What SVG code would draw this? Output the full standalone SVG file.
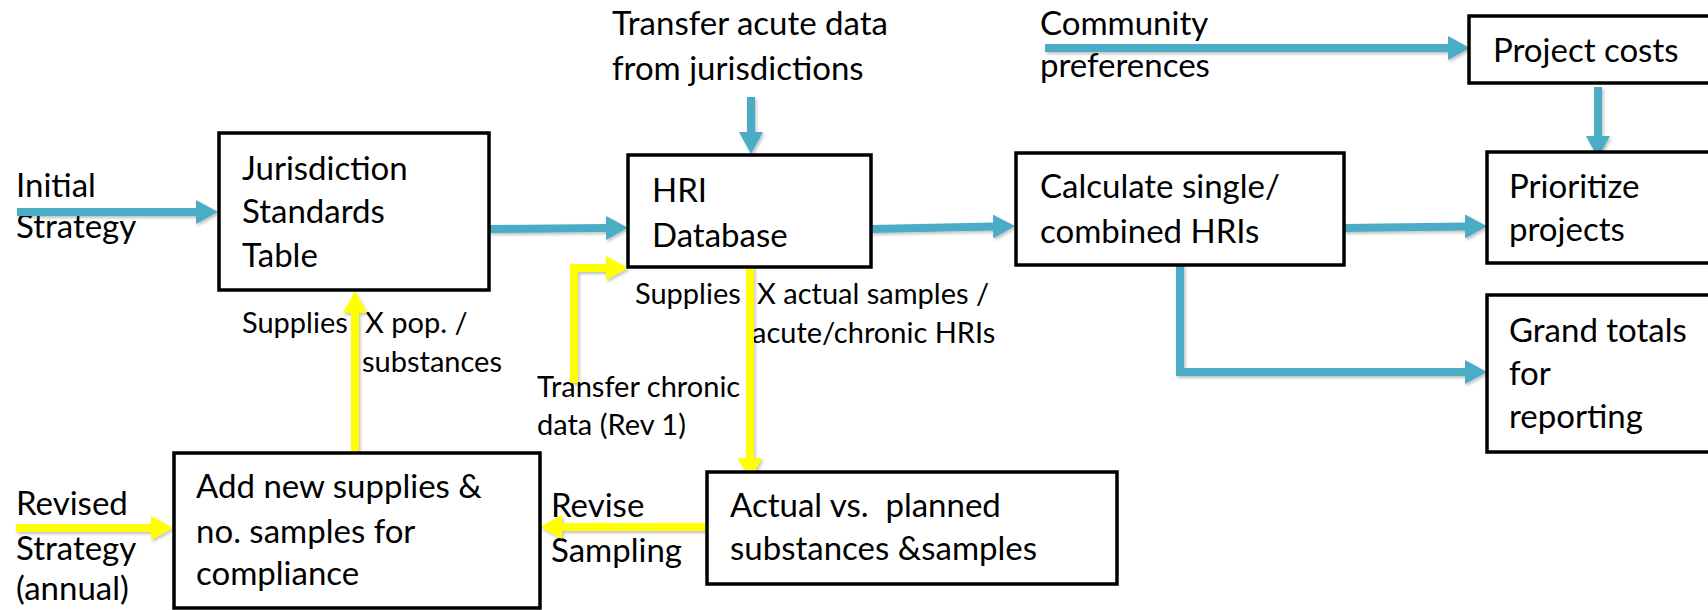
<svg xmlns="http://www.w3.org/2000/svg" width="1708" height="610" viewBox="0 0 1708 610">
  <style>
    .box { fill: #ffffff; stroke: #000000; stroke-width: 3.5; }
    .t { font-family: Lato, "Open Sans", sans-serif; font-size: 33px; fill: #000000; }
    .s { font-family: Lato, "Open Sans", sans-serif; font-size: 29px; fill: #000000; }
    .blue { fill: none; stroke: #4BACC6; stroke-width: 8; marker-end: url(#headBlue); }
    .yel { fill: none; stroke: #FFFF00; stroke-width: 8; marker-end: url(#headYel); }
  </style>
  <defs>
    <marker id="headBlue" viewBox="0 -12 22 24" refX="0" refY="0" markerWidth="22" markerHeight="24" markerUnits="userSpaceOnUse" orient="auto">
      <path d="M0,-12 L22,0 L0,12 Z" fill="#4BACC6"/>
    </marker>
    <marker id="headYel" viewBox="0 -12 22 24" refX="0" refY="0" markerWidth="22" markerHeight="24" markerUnits="userSpaceOnUse" orient="auto">
      <path d="M0,-12 L22,0 L0,12 Z" fill="#FFFF00"/>
    </marker>
    <filter id="shadow" x="-5%" y="-5%" width="110%" height="120%">
      <feDropShadow dx="1.5" dy="2" stdDeviation="1.5" flood-color="#000000" flood-opacity="0.25"/>
    </filter>
  </defs>

  <!-- free-standing labels -->
  <g id="labels">
    <text class="t" x="16" y="197">Initial</text>
    <text class="t" x="16" y="238">Strategy</text>
    <text class="t" x="612" y="35">Transfer acute data</text>
    <text class="t" x="612" y="80">from jurisdictions</text>
    <text class="t" x="1040" y="35">Community</text>
    <text class="t" x="1040" y="77">preferences</text>
    <text class="t" x="16" y="515">Revised</text>
    <text class="t" x="16" y="560">Strategy</text>
    <text class="t" x="16" y="600">(annual)</text>
    <text class="t" x="551" y="517">Revise</text>
    <text class="t" x="551" y="562">Sampling</text>
    <text class="s" x="242" y="333"><tspan>Supplies </tspan><tspan x="365">X pop. /</tspan></text>
    <text class="s" x="362" y="372">substances</text>
    <text class="s" x="635" y="304"><tspan>Supplies </tspan><tspan x="757">X actual samples /</tspan></text>
    <text class="s" x="752" y="343">acute/chronic HRIs</text>
    <text class="s" x="537" y="397">Transfer chronic</text>
    <text class="s" x="537" y="435">data (Rev 1)</text>
  </g>

  <!-- connectors -->
  <g id="connectors" filter="url(#shadow)">
    <path class="blue" d="M17,212 L196,212"/>
    <path class="blue" d="M489,229 L606,228"/>
    <path class="blue" d="M751,97 L751,132"/>
    <path class="blue" d="M871,229 L993,226.5"/>
    <path class="blue" d="M1045,48 L1448,48"/>
    <path class="blue" d="M1598,87 L1598,136"/>
    <path class="blue" d="M1344,228 L1465,226.5"/>
    <path class="blue" d="M1180,265 L1180,372 L1465,372"/>
    <path class="yel" d="M574,383 L574,268 L606,268"/>
    <path class="yel" d="M750,267 L750,458"/>
    <path class="yel" d="M355,453 L355,313"/>
    <path class="yel" d="M16,528 L151,528"/>
    <path class="yel" d="M707,527 L562,527"/>
  </g>

  <g id="jurisdiction">
    <rect class="box" x="219" y="133" width="270" height="157"/>
    <text class="t" x="242" y="180">Jurisdiction</text>
    <text class="t" x="242" y="223">Standards</text>
    <text class="t" x="242" y="267">Table</text>
  </g>

  <g id="hri-database">
    <rect class="box" x="628" y="155" width="243" height="112"/>
    <text class="t" x="652" y="202">HRI</text>
    <text class="t" x="652" y="247">Database</text>
  </g>

  <g id="calculate">
    <rect class="box" x="1016" y="153" width="328" height="112"/>
    <text class="t" x="1040" y="198">Calculate single/</text>
    <text class="t" x="1040" y="243">combined HRIs</text>
  </g>

  <g id="project-costs">
    <rect class="box" x="1469" y="16" width="260" height="67"/>
    <text class="t" x="1493" y="62">Project costs</text>
  </g>

  <g id="prioritize">
    <rect class="box" x="1487" y="152" width="240" height="111"/>
    <text class="t" x="1509" y="198">Prioritize</text>
    <text class="t" x="1509" y="241">projects</text>
  </g>

  <g id="grand-totals">
    <rect class="box" x="1487" y="295" width="240" height="157"/>
    <text class="t" x="1509" y="342">Grand totals</text>
    <text class="t" x="1509" y="385">for</text>
    <text class="t" x="1509" y="428">reporting</text>
  </g>

  <g id="add-supplies">
    <rect class="box" x="174" y="453" width="366" height="155"/>
    <text class="t" x="196" y="498">Add new supplies &amp;</text>
    <text class="t" x="196" y="543">no. samples for</text>
    <text class="t" x="196" y="585">compliance</text>
  </g>

  <g id="actual-vs-planned">
    <rect class="box" x="707" y="472" width="410" height="112"/>
    <text class="t" x="730" y="517" xml:space="preserve">Actual vs.  planned</text>
    <text class="t" x="730" y="560">substances &amp;samples</text>
  </g>
</svg>
